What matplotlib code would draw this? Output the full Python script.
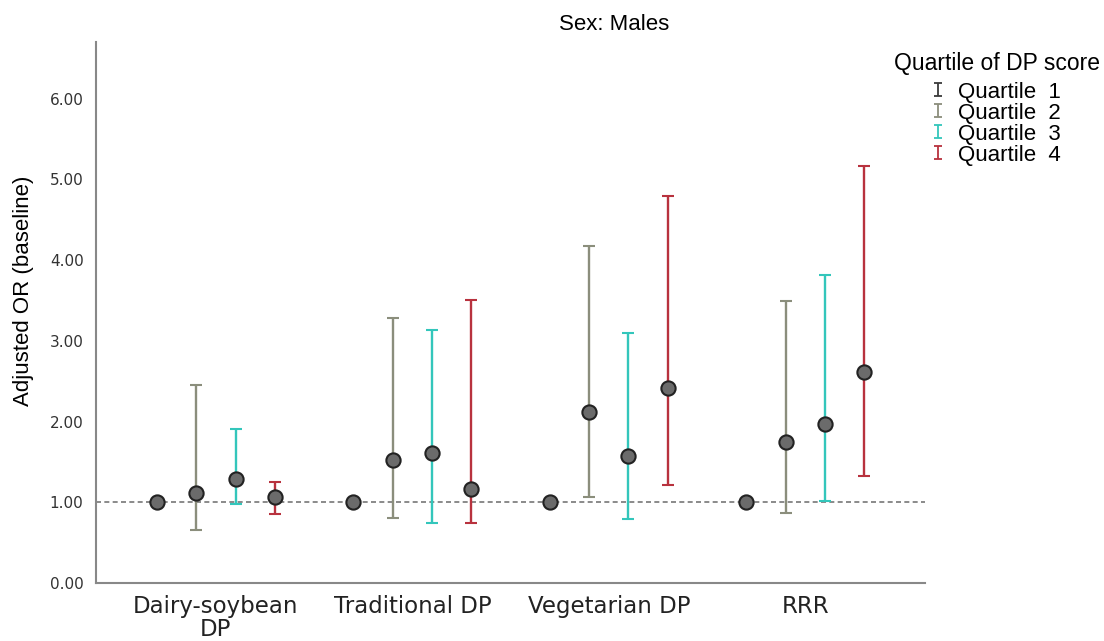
import numpy as np
import matplotlib.pyplot as plt
from matplotlib.legend_handler import HandlerErrorbar

# Data
patterns = ['Dairy-soybean\nDP', 'Traditional DP', 'Vegetarian DP', 'RRR']
quartiles = ['Quartile  1', 'Quartile  2', 'Quartile  3', 'Quartile  4']
colors = ['#3a3a3a', '#8b8e7c', '#33c6bb', '#b8323e']

# rows = pattern, cols = quartile
or_est = np.array([[1.00, 1.12, 1.29, 1.06],
                   [1.00, 1.52, 1.61, 1.16],
                   [1.00, 2.12, 1.57, 2.42],
                   [1.00, 1.75, 1.97, 2.61]])
ci_low = np.array([[1.00, 0.66, 0.98, 0.85],
                   [1.00, 0.80, 0.74, 0.74],
                   [1.00, 1.07, 0.79, 1.22],
                   [1.00, 0.87, 1.01, 1.32]])
ci_high = np.array([[1.00, 2.45, 1.91, 1.25],
                    [1.00, 3.28, 3.13, 3.51],
                    [1.00, 4.17, 3.10, 4.80],
                    [1.00, 3.50, 3.82, 5.17]])
yticks = [0, 1, 2, 3, 4, 5, 6]

fig = plt.figure(figsize=(11.04, 6.41), dpi=100)
ax = fig.add_axes([0.087, 0.0905, 0.751, 0.8435])

offsets = np.array([-1.5, -0.5, 0.5, 1.5]) * 0.2
x = np.arange(len(patterns))

ax.axhline(1.0, color='#777777', ls=(0, (3, 2)), lw=1.2, zorder=1)

handles = []
for q in range(len(quartiles)):
    xs = x + offsets[q]
    has_ci = ci_high[:, q] > ci_low[:, q]
    if has_ci.any():
        ax.errorbar(xs[has_ci], or_est[has_ci, q],
                    yerr=[or_est[has_ci, q] - ci_low[has_ci, q],
                          ci_high[has_ci, q] - or_est[has_ci, q]],
                    fmt='none', ecolor=colors[q], elinewidth=1.7, capsize=4,
                    capthick=1.5, zorder=2)
    ax.scatter(xs, or_est[:, q], s=105, color='#6b6b6b', edgecolor='#222222',
               linewidth=1.5, zorder=3)
    h = ax.errorbar([np.nan], [np.nan], yerr=[[np.nan], [np.nan]], fmt='none',
                    ecolor=colors[q], elinewidth=1.3, capsize=3, capthick=1.3,
                    label=quartiles[q])
    handles.append(h)

ax.set_xlim(-0.61, 3.61)
ax.set_ylim(0, 6.7)
ax.set_xticks(x)
ax.set_xticklabels(patterns, fontsize=16.5, family='DejaVu Sans', color='#222222',
                   linespacing=0.95)
ax.set_yticks(yticks)
ax.set_yticklabels([f'{v:.2f}' for v in yticks], fontsize=11, color='#333333')
ax.tick_params(axis='x', length=0, pad=9)
ax.tick_params(axis='y', length=0, pad=9)
ax.set_ylabel('Adjusted OR (baseline)', fontsize=16, family='Liberation Sans')
ax.yaxis.set_label_coords(-0.0745, 0.54)

for side in ['top', 'right']:
    ax.spines[side].set_visible(False)
for side in ['left', 'bottom']:
    ax.spines[side].set_color('#888888')
    ax.spines[side].set_linewidth(1.5)

fig.text(0.556, 0.961, 'Sex: Males', ha='center', va='center', fontsize=16,
         family='Liberation Sans')

leg = fig.legend(handles=handles, loc='upper right', bbox_to_anchor=(0.998, 0.923),
                 frameon=False, title='Quartile of DP score',
                 prop={'family': 'Liberation Sans', 'size': 16},
                 handler_map={type(handles[0]): HandlerErrorbar(xerr_size=0.3, yerr_size=0.3)},
                 handlelength=0.6, handletextpad=0.6,
                 labelspacing=0.0, borderaxespad=0.0, borderpad=0.1)
leg.get_title().set_fontsize(16.5)
leg.get_title().set_family('Liberation Sans')
leg._legend_box.align = 'center'
leg._legend_box.sep = 5

fig.savefig('out.png', dpi=100)
